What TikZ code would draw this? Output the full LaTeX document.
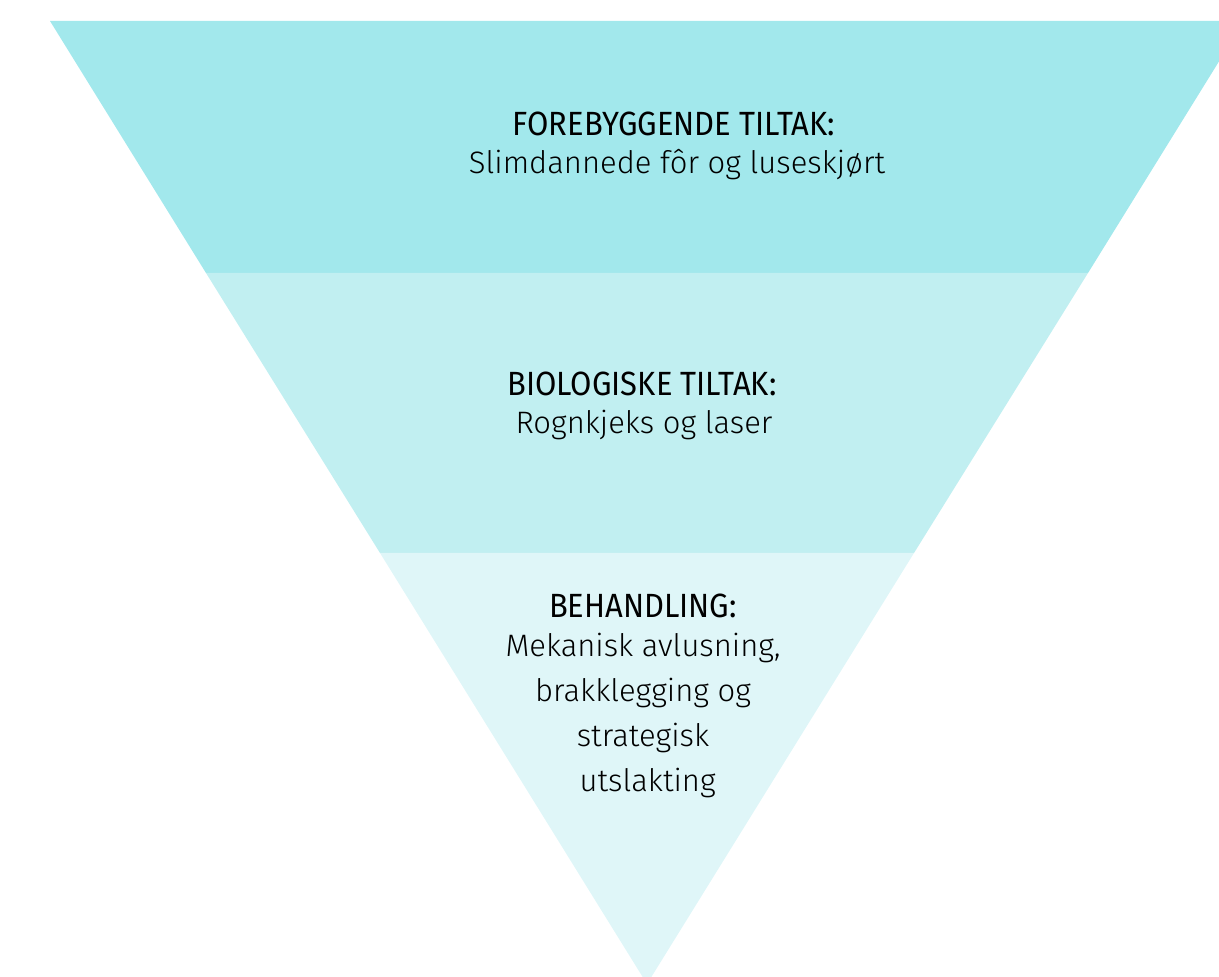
\documentclass[tikz,border=0pt]{standalone}
\usepackage{fontspec}
\setmainfont{Fira Sans}[UprightFont={* Light},BoldFont={*}]
\newfontfamily\headfont{Fira Sans}[FakeStretch=0.92]
\usepackage{xcolor}
\usetikzlibrary{positioning}

\definecolor{bandtop}{HTML}{A2E8EC}
\definecolor{bandmid}{HTML}{C1EFF1}
\definecolor{bandlow}{HTML}{DFF6F8}

\begin{document}
\begin{tikzpicture}[x=0.5pt,y=-0.5pt,
                    head/.style={font=\headfont\fontsize{16.8}{19}\selectfont,inner sep=0pt},
                    body/.style={font=\fontsize{15.5}{22.5}\selectfont,align=center,inner sep=0pt}]

  \useasboundingbox (0,0) rectangle (1219,977);
  \clip (0,0) rectangle (1219,977);

  % corners of the funnel
  \coordinate (tl) at (50,21);
  \coordinate (tr) at (1244,21);
  \coordinate (apex) at (647,984);
  \coordinate (l1) at (206,273);
  \coordinate (r1) at (1088,273);
  \coordinate (l2) at (380,553);
  \coordinate (r2) at (914,553);

  \fill[bandtop] (tl) -- (tr) -- (r1) -- (l1) -- cycle;
  \fill[bandmid] (l1) -- (r1) -- (r2) -- (l2) -- cycle;
  \fill[bandlow] (l2) -- (r2) -- (apex) -- cycle;

  \node[head] (h1) at (674,124) {FOREBYGGENDE TILTAK:};
  \node[body] (b1) at (677,165) {Slimdannede fôr og luseskjørt};

  \node[head] (h2) at (642,384) {BIOLOGISKE TILTAK:};
  \node[body] (b2) at (644,425) {Rognkjeks og laser};

  \node[head] (h3) at (643,606) {BEHANDLING:};
  \node[body,anchor=north] (b3) at (643,633) {Mekanisk avlusning,\\ brakklegging og\\ strategisk\\ \hspace{0.3em}utslakting};
\end{tikzpicture}
\end{document}
